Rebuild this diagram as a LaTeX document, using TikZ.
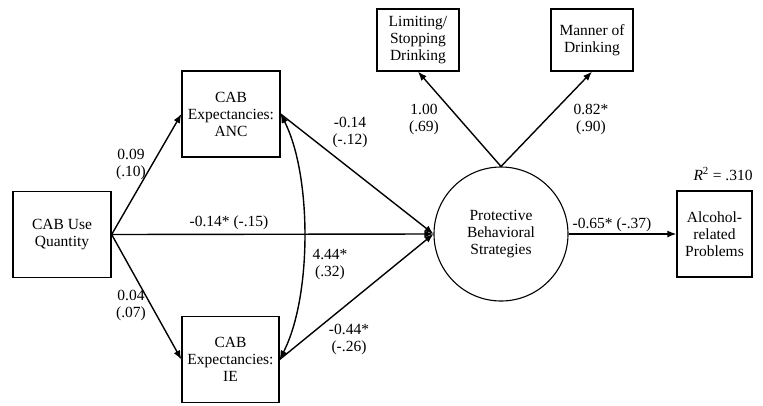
\documentclass[tikz,border=0pt]{standalone}
\usepackage{fontspec}
\setmainfont{Liberation Serif}
\usetikzlibrary{arrows.meta}
\begin{document}
\begin{tikzpicture}[x=1pt,y=-1pt,
  every node/.style={font=\fontsize{15.5}{17}\selectfont, align=center, inner sep=0pt},
  box/.style={draw, line width=1.3pt, minimum width=#1, minimum height=86},
  lat/.style={draw, circle, line width=1.1pt, minimum size=134},
  arr/.style={line width=1.4pt, -{Latex[length=9pt,width=7pt]}},
  darr/.style={line width=1.4pt, {Latex[length=9pt,width=7pt]}-{Latex[length=9pt,width=7pt]}},
  lbl/.style={}]
\useasboundingbox (0,0) rectangle (763,405);
\fill[white] (0,0) rectangle (763,405);
\node[box=98] (cab) at (62,234.5) {CAB Use\\Quantity};
\node[box=98] (anc) at (231,114) {CAB\\Expectancies:\\ANC};
\node[box=97] (ie) at (230.5,359.5) {CAB\\Expectancies:\\IE};
\node[lat] (pbs) at (501,234) {Protective\\Behavioral\\Strategies};
\node[box=82, minimum height=62] (lim) at (418,40) {Limiting/\\Stopping\\Drinking};
\node[box=82, minimum height=62] (man) at (592,40) {Manner of\\Drinking};
\node[box=75] (alc) at (714.5,234) {Alcohol-\\related\\Problems};
\node (r2) at (723,174) {\textit{R}\textsuperscript{2} = .310};
\draw[arr] (cab.east) -- (anc.west);
\draw[arr] (cab.east) -- (ie.west);
\draw[arr] (cab.east) -- (pbs.west);
\draw[arr] (anc.east) -- (pbs.west);
\draw[arr] (ie.east) -- (pbs.west);
\draw[darr] (anc.east) .. controls (312,175) and (312,297) .. (ie.east);
\draw[arr] (pbs.north) -- (lim.south);
\draw[arr] (pbs.north) -- (man.south);
\draw[arr] (pbs.east) -- (alc.west);
\node[lbl] (l1) at (131,164) {0.09\\(.10)};
\node[lbl] (l2) at (229,223) {-0.14* (-.15)};
\node[lbl] (l3) at (131,305) {0.04\\(.07)};
\node[lbl] (l4) at (350,132) {-0.14\\(-.12)};
\node[lbl] (l5) at (330,265) {4.44*\\(.32)};
\node[lbl] (l6) at (349,339) {-0.44*\\(-.26)};
\node[lbl] (l7) at (424,119) {1.00\\(.69)};
\node[lbl] (l8) at (591,119) {0.82*\\(.90)};
\node[lbl] (l9) at (612,225) {-0.65* (-.37)};
\end{tikzpicture}
\end{document}
